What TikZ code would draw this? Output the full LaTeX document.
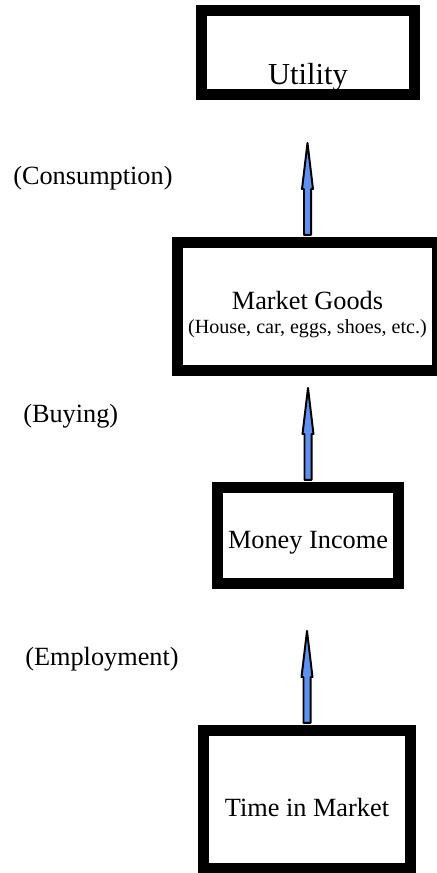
\documentclass[tikz,border=0pt]{standalone}
\usepackage{fontspec}
\setmainfont{Liberation Serif}
\usetikzlibrary{calc}
\definecolor{arrowblue}{RGB}{95,145,240}

\begin{document}
\begin{tikzpicture}[x=0.025cm,y=-0.025cm,
  main box/.style={draw,line width=7.8pt,inner sep=0pt,font=\fontsize{18.7}{22}\selectfont},
  side label/.style={anchor=base west,inner sep=0pt,font=\fontsize{18.7}{22}\selectfont},
  up arrow/.style={draw=black,fill=arrowblue,line width=1.4pt,line join=round,
    to path={let \p1=(\tikztostart), \p2=(\tikztotarget) in
      (\x1-2.5pt,\y1) -- (\x1-2.5pt,\y2-32.7pt) -- (\x1-3.9pt,\y2-32.7pt) -- (\x2,\y2)
      -- (\x1+3.9pt,\y2-32.7pt) -- (\x1+2.5pt,\y2-32.7pt) -- (\x1+2.5pt,\y1) -- cycle}}]
  \useasboundingbox (0,0) rectangle (436,873);

  \node[main box,minimum width=5.325cm,minimum height=2.1cm,
    font=\fontsize{21.7}{26}\selectfont,text height=46pt,text depth=0pt] (utility) at (308,52.5) {Utility};
  \node[main box,minimum width=6.5cm,minimum height=3.2cm,align=center] (goods) at (307.5,306.5)
    {\rule{0pt}{25pt}Market Goods\\[-5pt]{\fontsize{14.3}{16}\selectfont (House, car, eggs, shoes, etc.)}};
  \node[main box,minimum width=4.525cm,minimum height=2.4cm,
    text height=17.8pt,text depth=0pt] (money) at (308,535.5) {Money Income};
  \node[main box,minimum width=5.15cm,minimum height=3.45cm,
    text height=24pt,text depth=0pt] (time) at (307,799.5) {Time in Market};

  \node[side label] (consumption) at (13,185) {(Consumption)};
  \node[side label] (buying) at (23,422) {(Buying)};
  \node[side label] (employment) at (25,665) {(Employment)};

  \coordinate (tipUtility) at (307.5,143);
  \coordinate (footGoods) at ([yshift=1.5pt]goods.north);
  \coordinate (tipGoods) at (308,388);
  \coordinate (footMoney) at ([yshift=1.5pt]money.north);
  \coordinate (tipMoney) at (307,631);
  \coordinate (footTime) at ([yshift=1.5pt]time.north);
  \draw[up arrow] (footGoods) to (tipUtility);
  \draw[up arrow] (footMoney) to (tipGoods);
  \draw[up arrow] (footTime) to (tipMoney);
\end{tikzpicture}
\end{document}
